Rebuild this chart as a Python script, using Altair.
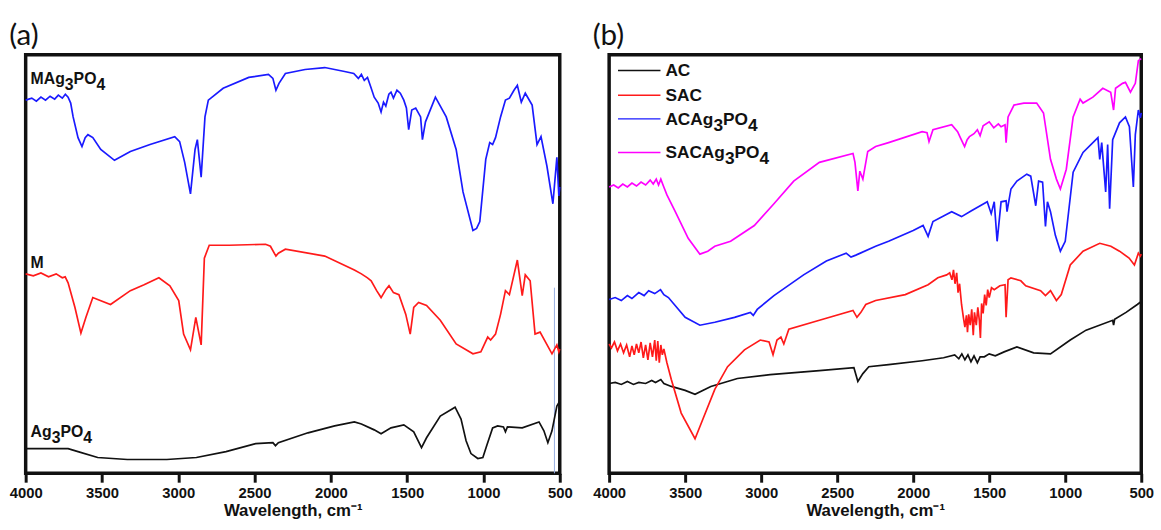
import altair as alt
import pandas as pd

# ---------------- panel (a): composite, precursor and Ag3PO4 ----------------
a_names = ["MAg3PO4", "M", "Ag3PO4"]
a_colors = ["#1a1aff", "#ff1a1a", "#111111"]

mag_wn = [4000, 3960, 3930, 3900, 3870, 3840, 3810, 3786, 3760, 3740, 3722, 3705, 3689, 3657,
          3631, 3610, 3592, 3560, 3508, 3418, 3314, 3185, 3023, 2991, 2958, 2920, 2890, 2875,
          2850, 2825, 2803, 2706, 2538, 2409, 2380, 2360, 2340, 2298, 2169, 2040, 1910, 1850,
          1820, 1800, 1781, 1760, 1740, 1716, 1690, 1671, 1655, 1640, 1620, 1606, 1590, 1567,
          1545, 1522, 1505, 1490, 1470, 1444, 1412, 1400, 1380, 1315, 1244, 1179, 1134, 1069,
          1045, 1024, 985, 959, 940, 921, 888, 856, 830, 800, 778, 752, 726, 681, 649, 623,
          584, 545, 519, 506, 500]
mag_t = [378, 380, 377, 381, 378, 382, 379, 383, 380, 384, 381, 375, 361, 340,
         331, 340, 343, 340, 328, 317, 326, 333, 341, 336, 315, 283, 328, 338,
         300, 361, 378, 390, 401, 404, 400, 388, 395, 405, 409, 411, 407, 405,
         400, 404, 398, 401, 392, 381, 375, 366, 376, 372, 384, 386, 380, 388,
         385, 378, 370, 348, 368, 370, 361, 338, 356, 381, 361, 328, 285, 246,
         248, 255, 318, 335, 333, 340, 361, 378, 380, 388, 393, 376, 385, 373, 333, 341,
         311, 273, 320, 281, 290]

m_wn = [4000, 3950, 3900, 3850, 3800, 3760, 3741, 3722, 3677, 3638, 3605, 3560, 3528, 3444,
        3314, 3224, 3127, 3055, 2997, 2965, 2920, 2885, 2850, 2829, 2797, 2667, 2428, 2396,
        2360, 2344, 2298, 2040, 1846, 1800, 1760, 1736, 1700, 1671, 1640, 1619, 1590, 1554,
        1509, 1480, 1457, 1425, 1373, 1283, 1179, 1069, 1017, 972, 953, 921, 888, 856, 830,
        778, 746, 726, 694, 662, 629, 551, 519, 506, 500]
m_t = [202, 200, 203, 199, 202, 198, 199, 193, 168, 142, 158, 178, 176, 171,
       185, 191, 198, 190, 175, 141, 125, 158, 130, 218, 231, 231, 232, 230,
       220, 223, 227, 220, 206, 202, 198, 195, 185, 178, 186, 190, 183, 181,
       161, 141, 168, 173, 170, 155, 131, 121, 123, 138, 135, 141, 161, 185, 181,
       216, 180, 201, 195, 141, 143, 121, 130, 123, 126]

ag_wn = [4000, 3851, 3722, 3657, 3528, 3334, 3075, 2881, 2687, 2493, 2380, 2363, 2344, 2150,
         1975, 1846, 1800, 1716, 1671, 1606, 1522, 1457, 1406, 1373, 1283, 1186, 1147, 1114,
         1082, 1037, 1004, 979, 940, 907, 869, 856, 843, 746, 636, 604, 578, 551, 519, 500]
ag_t = [25, 25, 25, 22, 16, 14, 14, 16, 22, 30, 31, 28, 31, 41,
        48, 52, 50, 44, 40, 46, 49, 42, 26, 36, 58, 67, 55, 33,
        20, 15, 16, 28, 46, 48, 47, 42, 47, 46, 52, 43, 31, 43, 68, 73]

# stray vertical trace near the low-wavenumber edge
stray_wn = [535]
stray_top = [188]

# ---------------- panel (b): activated carbons and their Ag3PO4 composites ----------------
b_names = ["AC", "SAC", "ACAg3PO4", "SACAg3PO4"]
b_colors = ["#111111", "#ff1a1a", "#1a1aff", "#ff00ff"]

ac_wn = [4000, 3960, 3920, 3880, 3840, 3805, 3760, 3720, 3695, 3660, 3640, 3591, 3500, 3435,
         3331, 3156, 2941, 2617, 2390, 2364, 2331, 2292, 2162, 1941, 1800, 1727, 1700, 1680,
         1660, 1640, 1620, 1600, 1578, 1560, 1532, 1500, 1460, 1402, 1318, 1208, 1097, 967,
         863, 688, 682, 675, 600, 526, 500]
ac_t = [91, 92, 90, 93, 90, 92, 91, 94, 92, 95, 91, 88, 84, 80,
        88, 96, 100, 104, 107, 93, 101, 108, 110, 114, 117, 120, 116, 121,
        115, 120, 113, 119, 112, 118, 118, 121, 119, 123, 128, 122, 121, 135,
        145, 155, 150, 156, 163, 171, 174]

sac_wn = [4000, 3985, 3965, 3945, 3925, 3905, 3885, 3865, 3850, 3835, 3820, 3805, 3790, 3775,
          3760, 3745, 3730, 3715, 3700, 3690, 3680, 3670, 3660, 3650, 3640, 3620, 3591, 3526,
          3435, 3383, 3305, 3221, 3110, 3006, 2948, 2922, 2896, 2870, 2851, 2818, 2617, 2396,
          2370, 2344, 2312, 2247, 2052, 1902, 1838, 1780, 1760, 1745, 1735, 1725, 1714, 1705,
          1695, 1682, 1670, 1660, 1650, 1643, 1635, 1625, 1615, 1605, 1597, 1585, 1575, 1565,
          1558, 1550, 1540, 1530, 1520, 1510, 1500, 1485, 1467, 1430, 1396, 1389, 1376, 1357,
          1292, 1260, 1162, 1130, 1097, 1058, 1026, 967, 883, 773, 700, 643, 580, 545, 519,
          506, 500]
sac_t = [131, 127, 133, 124, 131, 122, 130, 118, 129, 120, 131, 122, 133, 117,
         130, 115, 132, 118, 135, 114, 134, 112, 130, 120, 126, 112, 95, 61,
         35, 55, 85, 108, 125, 135, 133, 120, 135, 138, 131, 146, 155, 165,
         158, 163, 171, 175, 181, 191, 198, 201, 203, 196, 206, 192, 203, 183,
         192, 171, 158, 148, 160, 143, 161, 150, 166, 140, 163, 150, 168, 155,
         137, 172, 162, 181, 170, 186, 178, 188, 186, 190, 191, 158, 196, 198,
         195, 190, 185, 180, 185, 175, 181, 211, 225, 233, 230, 225, 218, 211, 223,
         220, 222]

acag_wn = [4000, 3960, 3920, 3880, 3850, 3805, 3770, 3740, 3700, 3662, 3640, 3610, 3500, 3403,
           3305, 3175, 3071, 3052, 3026, 2916, 2721, 2571, 2441, 2409, 2377, 2247, 2162, 2000,
           1935, 1902, 1870, 1747, 1682, 1617, 1513, 1487, 1467, 1448, 1422, 1389, 1383, 1357,
           1318, 1253, 1227, 1194, 1175, 1149, 1130, 1117, 1097, 1065, 1032, 1000, 948, 883,
           785, 773, 760, 734, 721, 708, 688, 643, 604, 578, 552, 539, 519, 506, 500]
acag_t = [176, 178, 175, 180, 177, 183, 180, 185, 182, 186, 181, 178, 158, 150,
          153, 158, 163, 160, 166, 180, 201, 215, 223, 219, 221, 230, 235, 246,
          251, 240, 255, 265, 260, 266, 275, 263, 275, 235, 275, 276, 265, 288,
          296, 303, 301, 271, 296, 295, 250, 275, 265, 241, 225, 235, 305, 325,
          340, 318, 335, 285, 333, 268, 338, 355, 361, 351, 290, 343, 368, 360, 365]

sacag_wn = [4000, 3970, 3940, 3910, 3880, 3850, 3820, 3790, 3760, 3730, 3710, 3690, 3675, 3660,
            3643, 3620, 3565, 3480, 3403, 3351, 3305, 3201, 3045, 2916, 2786, 2617, 2396, 2383,
            2364, 2351, 2331, 2299, 2247, 2162, 1941, 1909, 1896, 1870, 1747, 1708, 1690, 1662,
            1645, 1630, 1600, 1578, 1560, 1540, 1500, 1470, 1440, 1422, 1396, 1389, 1376, 1337,
            1272, 1188, 1143, 1097, 1058, 1032, 993, 948, 902, 883, 818, 753, 701, 682, 669,
            623, 604, 571, 539, 519, 500]
sacag_t = [290, 292, 289, 293, 290, 294, 291, 295, 292, 297, 293, 298, 292, 298,
           291, 282, 265, 238, 222, 225, 230, 235, 251, 273, 296, 315, 324, 315,
           286, 306, 298, 326, 331, 335, 346, 345, 336, 348, 353, 346, 340, 331,
           338, 341, 344, 348, 342, 352, 356, 350, 354, 351, 353, 335, 361, 373,
           375, 375, 365, 318, 298, 288, 308, 361, 379, 375, 381, 390, 386, 368, 390,
           395, 396, 386, 395, 418, 420]

X_TICKS = [4000, 3500, 3000, 2500, 2000, 1500, 1000, 500]
LABEL_FONT = "Liberation Sans"
INK = "#111111"

# advance widths (em) of Liberation Sans Bold, used to set chemical formulas piece by piece
BOLD_EM = {"M": 0.833, "A": 0.722, "g": 0.611, "P": 0.667, "O": 0.778,
           "C": 0.722, "S": 0.667, "3": 0.556, "4": 0.556}


def formula_pieces(name, size, sub_drop):
    """Split a formula into runs; digit runs are set as subscripts.
    Returns (text, x offset, y offset) for every run."""
    runs = []
    for ch in name:
        sub = ch.isdigit()
        if runs and runs[-1][1] == sub:
            runs[-1][0] += ch
        else:
            runs.append([ch, sub])
    out, x = [], 0.0
    for text, sub in runs:
        out.append((text, x, sub_drop if sub else 0))
        x += sum(BOLD_EM[c] for c in text) * size
    return out


def long_table(names, wns, ts):
    rows = []
    for name, wn, t in zip(names, wns, ts):
        for i, (w, v) in enumerate(zip(wn, t)):
            rows.append({"series": name, "wn": w, "t": v, "i": i})
    return pd.DataFrame(rows)


def x_enc():
    return alt.X("wn:Q",
                 scale=alt.Scale(domain=[4000, 500], nice=False, zero=False),
                 axis=alt.Axis(values=X_TICKS, format="d", title="Wavelength, cm⁻¹",
                               labelFlush=False))


def y_enc():
    return alt.Y("t:Q", scale=alt.Scale(domain=[0, 424], nice=False, zero=False), axis=None)


df_a = long_table(a_names, [mag_wn, m_wn, ag_wn], [mag_t, m_t, ag_t])
df_b = long_table(b_names, [ac_wn, sac_wn, acag_wn, sacag_wn], [ac_t, sac_t, acag_t, sacag_t])

# ---- panel (a)
lines_a = alt.Chart(df_a).mark_line(strokeWidth=1.7).encode(
    x=x_enc(), y=y_enc(),
    color=alt.Color("series:N", scale=alt.Scale(domain=a_names, range=a_colors), legend=None),
    detail="series:N",
    order="i:Q",
)

stray = alt.Chart(pd.DataFrame({"wn": stray_wn, "t": stray_top, "t0": [0]})).mark_rule(
    color="#93acdf", strokeWidth=1
).encode(x=x_enc(), y=y_enc(), y2="t0")

# formula labels sit just above the start (4000 cm-1 end) of each trace
starts_a = df_a[df_a["i"] == 0].reset_index(drop=True)
A_SIZE = 16
label_layers = []
for name, base_dy in zip(a_names, [-16, -6, -12]):
    for text, px, drop in formula_pieces(name, A_SIZE, 6):
        label_layers.append(
            alt.Chart(starts_a).transform_filter(alt.datum.series == name).mark_text(
                align="left", baseline="alphabetic", dx=5 + px, dy=base_dy + drop,
                font=LABEL_FONT, fontWeight="bold", fontSize=A_SIZE, color=INK,
            ).encode(x=x_enc(), y=y_enc(), text=alt.value(text))
        )

panel_a = alt.layer(stray, lines_a, *label_layers).properties(
    width=541, height=424,
    title=alt.TitleParams("(a)", anchor="start", fontSize=30, font="Lato",
                          fontWeight="normal", color=INK, offset=4),
)

# ---- panel (b)
color_b = alt.Color("series:N", scale=alt.Scale(domain=b_names, range=b_colors), legend=None)

lines_b = alt.Chart(df_b).mark_line(strokeWidth=1.7).encode(
    x=x_enc(), y=y_enc(), color=color_b, detail="series:N", order="i:Q",
)

# key in the upper-left corner of the frame
B_SIZE = 17.5
key_rows = [16, 41, 65, 99]
key_layers = []
for name, colour, ry in zip(b_names, b_colors, key_rows):
    one = alt.Chart(pd.DataFrame({"series": [name]}))
    key_layers.append(
        one.mark_rule(strokeWidth=1.5, color=colour).encode(
            x=alt.value(9), x2=alt.value(52), y=alt.value(ry)
        )
    )
    for text, px, drop in formula_pieces(name, B_SIZE, 6):
        key_layers.append(
            one.mark_text(
                align="left", baseline="alphabetic",
                font=LABEL_FONT, fontWeight="bold", fontSize=B_SIZE, color=INK,
            ).encode(x=alt.value(57 + px), y=alt.value(ry + 6 + drop), text=alt.value(text))
        )

panel_b = alt.layer(lines_b, *key_layers).properties(
    width=539, height=424,
    title=alt.TitleParams("(b)", anchor="start", fontSize=30, font="Lato",
                          fontWeight="normal", color=INK, offset=4),
)

chart = alt.hconcat(panel_a, panel_b, spacing=16).resolve_scale(
    color="independent"
).properties(
    padding={"left": 7, "top": 16, "right": 5, "bottom": 5}
).configure_view(
    stroke=INK, strokeWidth=3.5
).configure_axis(
    domain=False, grid=False,
    labelFont=LABEL_FONT, labelFontWeight="bold", labelFontSize=15, labelColor=INK,
    labelPadding=4, tickSize=9, tickWidth=3, tickColor=INK,
    titleFont=LABEL_FONT, titleFontWeight="bold", titleFontSize=17, titleColor=INK,
    titlePadding=2,
)

chart.save("out.html", embed_options={"renderer": "svg", "actions": False})
